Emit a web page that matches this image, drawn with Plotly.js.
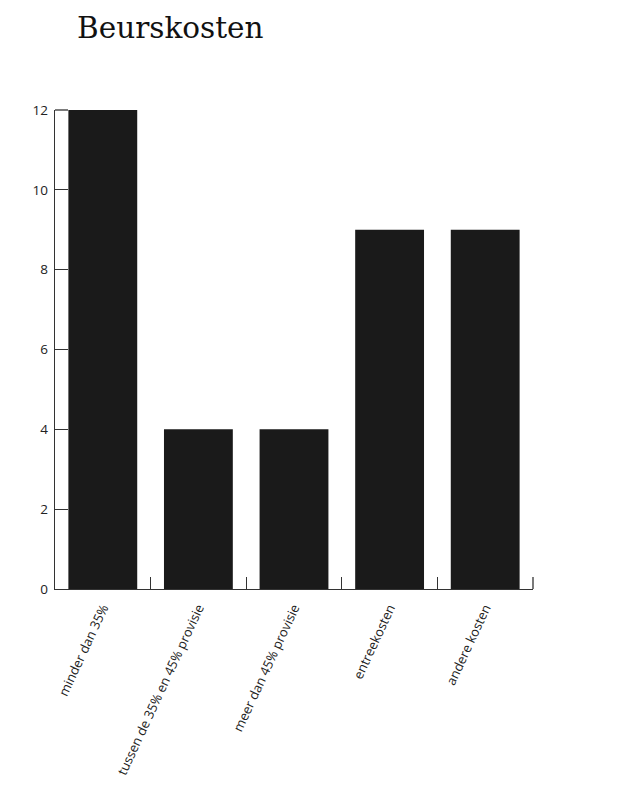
<!DOCTYPE html>
<html>
<head>
<meta charset="utf-8">
<script src="https://cdn.plot.ly/plotly-3.0.1.min.js"></script>
<style>html,body{margin:0;padding:0;background:#fff}</style>
</head>
<body>
<div id="chart" style="width:627px;height:800px"></div>
<script>
const categories = ["minder dan 35%", "tussen de 35% en 45% provisie", "meer dan 45% provisie", "entreekosten", "andere kosten"];
const values = [12, 4, 4, 9, 9];
const yTicks = [0, 2, 4, 6, 8, 10, 12];

Plotly.newPlot('chart', [{
  type: 'bar',
  x: categories,
  y: values,
  marker: {color: '#1a1a1a', line: {width: 0}},
  hoverinfo: 'none'
}], {
  width: 627, height: 800,
  margin: {l: 55, r: 94, t: 110, b: 211},
  paper_bgcolor: '#fff', plot_bgcolor: '#fff',
  bargap: 0.28,
  showlegend: false,
  title: {text: 'Beurskosten', x: 77/627, xanchor: 'left', y: 1 - 28/800, yanchor: 'middle',
          font: {family: 'DejaVu Serif', size: 29.5, color: '#111'}},
  shapes: [
    {type: 'line', xref: 'paper', yref: 'paper', ysizemode: 'pixel', yanchor: 0,
     x0: 1, x1: 1, y0: 0, y1: 12, line: {color: '#333', width: 1.3}},
    {type: 'line', xref: 'paper', yref: 'paper', xsizemode: 'pixel', xanchor: 0,
     x0: 0, x1: 13, y0: 1, y1: 1, line: {color: '#333', width: 1.3}}
  ],
  xaxis: {
    showline: true, linecolor: '#333', linewidth: 1.3,
    ticks: 'inside', ticklen: 12, tickcolor: '#333', tickwidth: 1.3,
    tickson: 'boundaries',
    tickangle: -65,
    ticklabelstandoff: 5,
    tickfont: {family: 'Open Sans', size: 13, color: '#222'},
    showgrid: false, zeroline: false,
    layer: 'above traces'
  },
  yaxis: {
    range: [0, 12],
    tickmode: 'array',
    tickvals: yTicks,
    showline: true, linecolor: '#333', linewidth: 1.3,
    ticks: 'inside', ticklen: 13, tickcolor: '#333', tickwidth: 1.3,
    ticklabelstandoff: 3,
    tickfont: {family: 'Open Sans', size: 13.5, color: '#222'},
    showgrid: false, zeroline: false
  }
}, {displayModeBar: false, staticPlot: true});
</script>
</body>
</html>
